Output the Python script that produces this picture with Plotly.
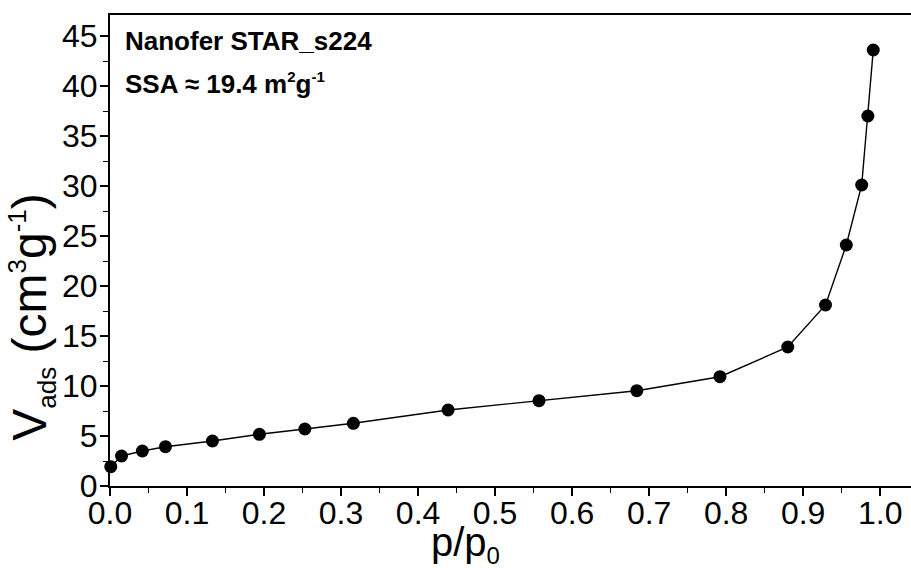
import plotly.graph_objects as go

# Data
p_rel = [0.001, 0.015, 0.042, 0.072, 0.133, 0.194, 0.253, 0.316, 0.439,
         0.557, 0.684, 0.792, 0.880, 0.929, 0.956, 0.976, 0.984, 0.991]
v_ads = [1.93, 3.0, 3.5, 3.93, 4.5, 5.17, 5.7, 6.27, 7.6,
         8.53, 9.53, 10.93, 13.9, 18.1, 24.1, 30.1, 37.0, 43.6]

x_ticks = [0.0, 0.1, 0.2, 0.3, 0.4, 0.5, 0.6, 0.7, 0.8, 0.9, 1.0]
y_ticks = [0, 5, 10, 15, 20, 25, 30, 35, 40, 45]

FONT = "Liberation Sans, Arial, sans-serif"

fig = go.Figure()
fig.add_trace(go.Scatter(
    x=p_rel, y=v_ads, mode="lines+markers",
    line=dict(color="black", width=1.4),
    marker=dict(color="black", size=13, symbol="circle"),
    showlegend=False, cliponaxis=False,
))

axis_common = dict(
    showline=True, linecolor="black", linewidth=2,
    ticks="outside", ticklen=8, tickwidth=1.6, tickcolor="black",
    showgrid=False, zeroline=False,
    tickfont=dict(family=FONT, size=32, color="black"),
)

fig.update_xaxes(
    range=[0, 1.04], tickvals=x_ticks, ticktext=[f"{v:.1f}" for v in x_ticks],
    mirror=True, ticklabelstandoff=-10,
    minor=dict(dtick=0.05, tick0=0, ticks="outside", ticklen=5, tickwidth=1.4, tickcolor="black"),
    **axis_common,
)
fig.update_yaxes(
    range=[0, 47.1], tickvals=y_ticks, ticktext=[str(v) for v in y_ticks],
    ticklabelstandoff=-4,
    minor=dict(dtick=2.5, tick0=0, ticks="outside", ticklen=5, tickwidth=1.4, tickcolor="black"),
    **axis_common,
)

fig.add_annotation(
    text="Nanofer STAR_s224", xref="paper", yref="paper", x=0.016, y=0.945,
    xanchor="left", yanchor="middle", showarrow=False,
    font=dict(family=FONT, size=26, color="black", weight="bold"),
)
fig.add_annotation(
    text="SSA ≈ 19.4 m<sup><span style='font-size:15px'>2</span></sup>g<sup><span style='font-size:15px'>-1</span></sup>",
    xref="paper", yref="paper", x=0.016, y=0.855,
    xanchor="left", yanchor="middle", showarrow=False,
    font=dict(family=FONT, size=26, color="black", weight="bold"),
)
# axis titles
fig.add_annotation(
    text="p/p<sub><span style='font-size:24px'>0</span></sub>", xref="paper", yref="paper", x=0.444, y=-0.068,
    xanchor="center", yanchor="top", showarrow=False,
    font=dict(family=FONT, size=40, color="black"),
)
fig.add_annotation(
    text=("V<sub><span style='font-size:26px'>ads</span></sub> "
          "(cm<sup><span style='font-size:26px'>3</span></sup>"
          "g<sup><span style='font-size:26px'>-1</span></sup>)"),
    xref="paper", yref="paper",
    x=-0.097, y=0.36, textangle=-90,
    xanchor="center", yanchor="middle", showarrow=False,
    font=dict(family=FONT, size=48, color="black"),
)

fig.update_layout(
    width=911, height=568,
    margin=dict(l=110, r=0, t=15, b=82),
    plot_bgcolor="white", paper_bgcolor="white",
)

fig.write_html("out.html")
